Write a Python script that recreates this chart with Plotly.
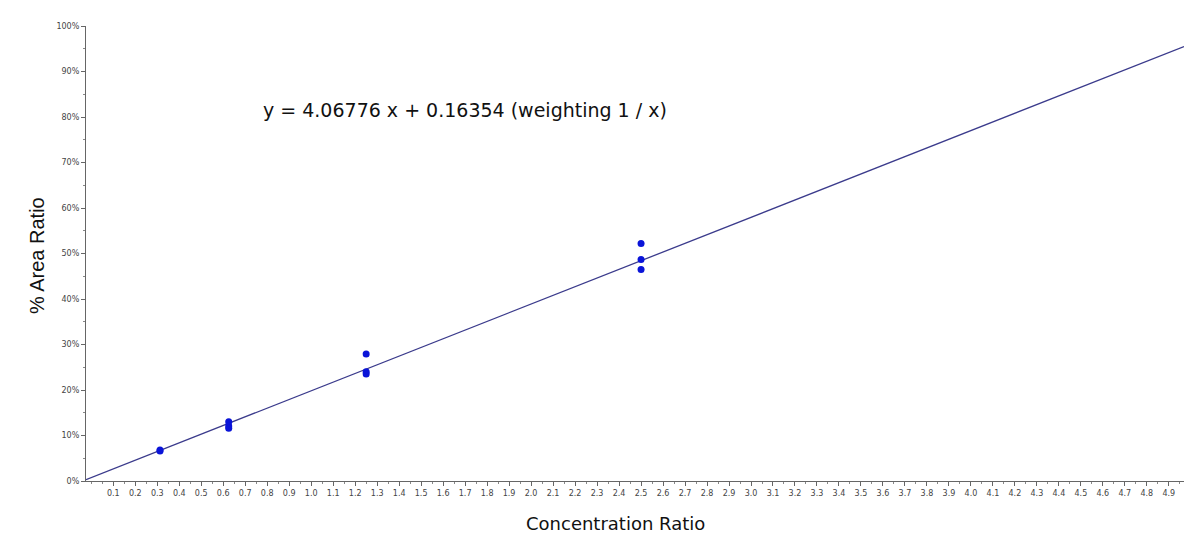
import plotly.graph_objects as go

# Calibration standards: concentration ratio vs. % area ratio (replicates)
conc = [0.3125, 0.3125, 0.625, 0.625, 0.625, 1.25, 1.25, 1.25, 2.5, 2.5, 2.5]
area_pct = [6.6, 6.8, 13.0, 12.1, 11.6, 27.9, 24.0, 23.5, 52.2, 48.7, 46.5]

# Weighted (1/x) linear fit, area ratio units
slope = 4.06776
intercept = 0.16354
full_scale = 21.34  # area ratio shown as 100 %

x_min, x_max = -0.024, 4.969
x_ticks = [round(0.1 * i, 1) for i in range(1, 50)]
y_ticks = list(range(0, 101, 10))

fit_x = [x_min, x_max]
fit_y = [(slope * x + intercept) / full_scale * 100 for x in fit_x]

W, H = 1184, 536
L, R, T, B = 86, 0, 26, 55
pw, ph = W - L - R, H - T - B


def px(xp):
    return (xp - L) / pw


def py(yp):
    return (H - B - yp) / ph


fig = go.Figure()
fig.add_trace(go.Scatter(
    x=fit_x, y=fit_y, mode="lines",
    line=dict(color="#3b3b8c", width=1.3),
    hoverinfo="skip", showlegend=False,
))
fig.add_trace(go.Scatter(
    x=conc, y=area_pct, mode="markers",
    marker=dict(color="#0a14d8", size=7),
    showlegend=False,
))

# fit equation
fig.add_annotation(
    x=px(465), y=py(110), xref="paper", yref="paper", showarrow=False,
    xanchor="center", yanchor="middle",
    text="y = 4.06776 x + 0.16354 (weighting 1 / x)",
    font=dict(family="DejaVu Sans", size=19, color="#111"),
)
# axis titles
fig.add_annotation(
    x=px(615), y=py(523), xref="paper", yref="paper", showarrow=False,
    xanchor="center", yanchor="middle",
    text="Concentration Ratio",
    font=dict(family="DejaVu Sans", size=18, color="#111"),
)
fig.add_annotation(
    x=px(37), y=py(256), xref="paper", yref="paper", showarrow=False,
    xanchor="center", yanchor="middle", textangle=-90,
    text="% Area Ratio",
    font=dict(family="Liberation Sans", size=20, color="#111"),
)

tick_font = dict(family="DejaVu Sans", size=8, color="#444")
fig.update_xaxes(
    range=[x_min, x_max],
    tickmode="array", tickvals=x_ticks, ticktext=[f"{v:.1f}" for v in x_ticks],
    ticks="outside", ticklen=4, tickcolor="#666", tickfont=tick_font,
    minor=dict(ticks="outside", ticklen=2, tickcolor="#888", dtick=0.05, tick0=0),
    showline=True, linecolor="#666", linewidth=1.3,
    showgrid=False, zeroline=False,
)
fig.update_yaxes(
    range=[0, 100],
    tickmode="array", tickvals=y_ticks, ticktext=[f"{v}%" for v in y_ticks],
    ticks="outside", ticklen=4, tickcolor="#666", tickfont=tick_font,
    minor=dict(ticks="outside", ticklen=2, tickcolor="#888", dtick=5, tick0=0),
    showline=True, linecolor="#666", linewidth=1.3,
    showgrid=False, zeroline=False,
)
fig.update_layout(
    width=W, height=H,
    margin=dict(l=L, r=R, t=T, b=B),
    paper_bgcolor="white", plot_bgcolor="white",
)
fig.write_html("out.html")
